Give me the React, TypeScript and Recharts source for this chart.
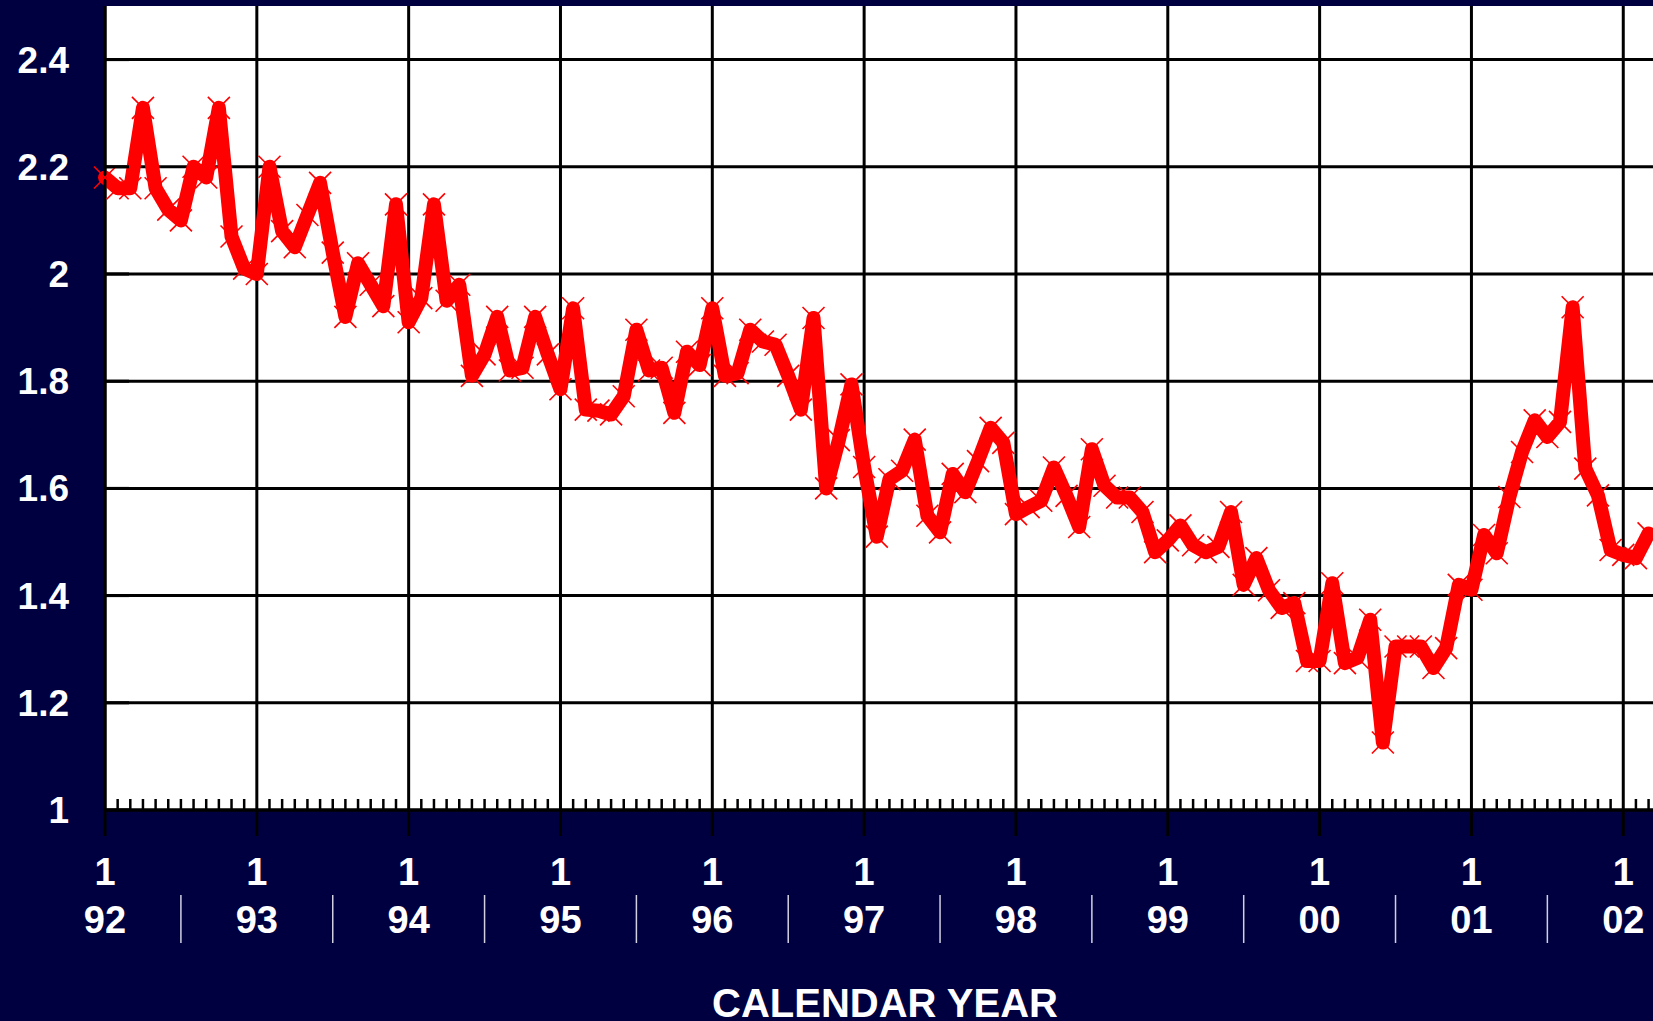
import React from 'react';
import { LineChart, Line, XAxis, YAxis, CartesianGrid } from 'recharts';

// year labels shown under each January tick
const years = ['92', '93', '94', '95', '96', '97', '98', '99', '00', '01', '02'];

// monthly values, Jan..Dec
const y1992 = [2.18, 2.16, 2.16, 2.31, 2.16, 2.12, 2.1, 2.2, 2.18, 2.31, 2.07, 2.01];
const y1993 = [2.0, 2.2, 2.08, 2.05, 2.11, 2.17, 2.04, 1.92, 2.02, 1.98, 1.94, 2.13];
const y1994 = [1.91, 1.955, 2.13, 1.95, 1.98, 1.81, 1.85, 1.92, 1.82, 1.825, 1.92, 1.85];
const y1995 = [1.785, 1.936, 1.747, 1.745, 1.738, 1.772, 1.896, 1.82, 1.825, 1.741, 1.855, 1.83];
const y1996 = [1.936, 1.81, 1.815, 1.896, 1.874, 1.868, 1.81, 1.747, 1.918, 1.6, 1.69, 1.794];
const y1997 = [1.64, 1.51, 1.617, 1.633, 1.691, 1.549, 1.518, 1.627, 1.593, 1.651, 1.713, 1.685];
const y1998 = [1.552, 1.565, 1.577, 1.639, 1.586, 1.528, 1.673, 1.605, 1.583, 1.583, 1.556, 1.481];
const y1999 = [1.503, 1.531, 1.494, 1.481, 1.491, 1.556, 1.42, 1.47, 1.41, 1.377, 1.386, 1.278];
const y2000 = [1.278, 1.423, 1.274, 1.284, 1.355, 1.126, 1.305, 1.305, 1.305, 1.265, 1.302, 1.42];
const y2001 = [1.411, 1.513, 1.479, 1.584, 1.668, 1.727, 1.696, 1.724, 1.938, 1.637, 1.587, 1.485];
const y2002 = [1.476, 1.47, 1.516];

const valueTicks = [1, 1.2, 1.4, 1.6, 1.8, 2, 2.2, 2.4];

const values = [
  ...y1992, ...y1993, ...y1994, ...y1995, ...y1996, ...y1997,
  ...y1998, ...y1999, ...y2000, ...y2001, ...y2002,
];
const data = values.map((v, i) => ({ month: i, value: v }));
const monthTicks = values.map((_, i) => i);
const yearTicks = years.map((_, k) => k * 12);

const NAVY = '#000040';
const FONT = '"Liberation Sans", Arial, Helvetica, sans-serif';

// chart frame
const W = 1653;
const H = 1021;
const TOP = 6;
const AXIS_H = 211;
const AXIS_W = 105;
const AXIS_Y = H - AXIS_H; // x axis line
const PLOT_LEFT = AXIS_W; // y axis line

const MonthTick = (props: any) => {
  const { x, payload } = props;
  const y = AXIS_Y;
  const i = payload.value;
  if (i % 12 !== 0) {
    return (
      <g>
        <line x1={x} x2={x} y1={y} y2={y - 11} stroke="#000" strokeWidth={2.5} />
        {i % 12 === 6 && (
          <line x1={x} x2={x} y1={y + 85} y2={y + 133} stroke="#d0d0e0" strokeWidth={1.5} />
        )}
      </g>
    );
  }
  return (
    <g>
      <line x1={x} x2={x} y1={y} y2={y + 26} stroke="#000" strokeWidth={3} />
      <text x={x} y={y + 75} textAnchor="middle" fill="#fff" fontSize={38} fontWeight="bold" fontFamily={FONT}>
        1
      </text>
      <text x={x} y={y + 123} textAnchor="middle" fill="#fff" fontSize={38} fontWeight="bold" fontFamily={FONT}>
        {years[i / 12]}
      </text>
    </g>
  );
};

const ValueTick = (props: any) => {
  const { y, payload } = props;
  const x = PLOT_LEFT;
  return (
    <g>
      <line x1={x} x2={x + 24} y1={y} y2={y} stroke="#000" strokeWidth={3} />
      <text x={69} y={y + 13} textAnchor="end" fill="#fff" fontSize={37} fontWeight="bold" fontFamily={FONT}>
        {String(payload.value)}
      </text>
    </g>
  );
};

const XMark = (props: any) => {
  const { cx, cy } = props;
  if (cx == null || cy == null) return null;
  const s = 11;
  return (
    <path
      d={`M${cx - s},${cy - s}L${cx + s},${cy + s}M${cx - s},${cy + s}L${cx + s},${cy - s}`}
      stroke="#ff0000"
      strokeWidth={1.6}
      fill="none"
    />
  );
};

const AxisTitle = (props: any) => {
  const vb = props.viewBox || { x: PLOT_LEFT, width: W - PLOT_LEFT };
  return (
    <text x={vb.x + vb.width / 2 + 6} y={1017} textAnchor="middle" fill="#fff" fontSize={40} fontWeight="bold" fontFamily={FONT}>
      CALENDAR YEAR
    </text>
  );
};

export default function App() {
  return (
    <div style={{ position: 'absolute', left: 0, top: 0, width: W, height: H, background: NAVY, overflow: 'hidden' }}>
      <LineChart width={W} height={H} data={data} margin={{ top: TOP, right: 0, bottom: 0, left: 0 }}>
        <CartesianGrid
          fill="#ffffff"
          fillOpacity={1}
          stroke="#000"
          strokeWidth={3}
          verticalValues={yearTicks}
          horizontalValues={valueTicks}
        />
        <Line
          type="linear"
          dataKey="value"
          stroke="#ff0000"
          strokeWidth={14}
          strokeLinejoin="round"
          strokeLinecap="round"
          dot={(p: any) => <XMark key={`d${p.index}`} {...p} />}
          activeDot={false}
          isAnimationActive={false}
        />
        <XAxis
          type="number"
          dataKey="month"
          domain={[0, 122.35]}
          ticks={monthTicks}
          interval={0}
          tickSize={0}
          tickMargin={0}
          tickLine={false}
          tick={<MonthTick />}
          axisLine={{ stroke: '#000', strokeWidth: 3 }}
          height={AXIS_H}
          label={{ content: (p: any) => <AxisTitle {...p} /> }}
        />
        <YAxis
          type="number"
          domain={[1, 2.5]}
          ticks={valueTicks}
          interval={0}
          tickSize={0}
          tickMargin={0}
          tickLine={false}
          tick={<ValueTick />}
          axisLine={{ stroke: '#000', strokeWidth: 3 }}
          width={AXIS_W}
        />
      </LineChart>
    </div>
  );
}
